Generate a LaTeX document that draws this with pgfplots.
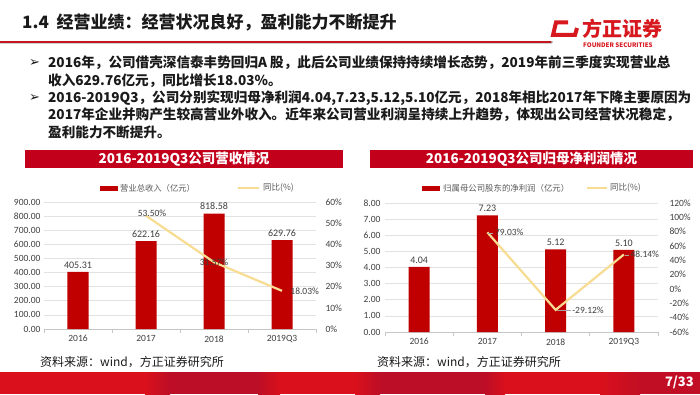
\documentclass[border=0pt]{standalone}
\usepackage{pgfplots}
\pgfplotsset{compat=1.18}
\usepackage{fontspec}
\setmainfont{Noto Sans CJK SC}
\newfontfamily\calf{Carlito}
\newfontfamily\dejavu{DejaVu Sans}
\definecolor{barred}{HTML}{C00000}
\definecolor{liney}{HTML}{F7DC92}
\definecolor{banner}{HTML}{C3001B}
\definecolor{tickc}{HTML}{404040}
\definecolor{legc}{HTML}{595959}
\definecolor{gridc}{HTML}{E2E2E2}
\definecolor{brightred}{HTML}{DA101C}
\definecolor{darkband}{HTML}{BC0E26}
\definecolor{logored}{HTML}{D7191F}
\definecolor{txt}{HTML}{1A1A1A}
\newcommand\bodyf{\fontsize{13.6}{16}\selectfont\bfseries}
\pgfplotsset{
  chartbase/.style={scale only axis, anchor=south west,
    xmin=-0.5, xmax=3.5,
    ticklabel style={text=tickc},
  },
}
\begin{document}
\begin{tikzpicture}[x=1pt,y=1pt]
\useasboundingbox (0,0) rectangle (700,394);
\fill[white] (0,0) rectangle (700,394);
% ---------- header ----------
\node[anchor=west,inner sep=0pt,text=txt,font=\fontsize{17}{20}\selectfont\bfseries] at (22,372) {1.4\ \ 经营业绩：经营状况良好，盈利能力不断提升};
\draw[gray!35,line width=1pt] (0,350.6) -- (552,350.6);
\draw[logored!90!black,line width=1.4pt] (0,352) -- (552,352);
\fill[gray!60] (552,352) circle (1.2pt);
\draw[logored,line width=4pt] (568,371.5) -- (556,371.5) -- (553,359) -- (575,359) -- (577,366);
\node[anchor=west,inner sep=0pt,text=logored,font=\fontsize{20}{22}\selectfont\bfseries] at (582,365) {方正证券};
\node[anchor=west,inner sep=0pt,text=logored,font=\fontsize{6.2}{7}\selectfont\bfseries] at (583,349) {FOUNDER SECURITIES};
% ---------- bullets ----------
\node[anchor=west,inner sep=0pt,text=txt,font=\dejavu\fontsize{13}{14}\selectfont\bfseries] at (29,331) {➢};
\node[anchor=west,inner sep=0pt,text=txt,font=\dejavu\fontsize{13}{14}\selectfont\bfseries] at (29,296) {➢};
\node[anchor=west,inner sep=0pt,text=txt,font=\bodyf] at (48,331) {2016年，公司借壳深信泰丰势回归A 股，此后公司业绩保持持续增长态势，2019年前三季度实现营业总};
\node[anchor=west,inner sep=0pt,text=txt,font=\bodyf] at (48,313) {收入629.76亿元，同比增长18.03\%。};
\node[anchor=west,inner sep=0pt,text=txt,font=\bodyf] at (48,296) {2016-2019Q3，公司分别实现归母净利润4.04,7.23,5.12,5.10亿元，2018年相比2017年下降主要原因为};
\node[anchor=west,inner sep=0pt,text=txt,font=\bodyf] at (48,279) {2017年企业并购产生较高营业外收入。近年来公司营业利润呈持续上升趋势，体现出公司经营状况稳定，};
\node[anchor=west,inner sep=0pt,text=txt,font=\bodyf] at (48,262) {盈利能力不断提升。};
% ---------- banners ----------
\fill[banner] (25,226) rectangle (343,244);
\node[text=white,font=\fontsize{13.5}{15}\selectfont\bfseries,inner sep=0pt] at (184,235) {2016-2019Q3公司营收情况};
\fill[banner] (370,226) rectangle (693,244);
\node[text=white,font=\fontsize{13.5}{15}\selectfont\bfseries,inner sep=0pt] at (531.5,235) {2016-2019Q3公司归母净利润情况};
% ---------- legends ----------
\fill[barred] (100,203.5) rectangle (118,208.5);
\node[anchor=west,inner sep=0pt,text=legc,font=\fontsize{8.3}{9}\selectfont] at (120,206) {营业总收入（亿元）};
\draw[liney,line width=2pt] (238,206) -- (259,206);
\node[anchor=west,inner sep=0pt,text=legc,font=\fontsize{8.5}{9}\selectfont] at (263,206) {同比(\%)};
\fill[barred] (422,203.5) rectangle (440,208.5);
\node[anchor=west,inner sep=0pt,text=legc,font=\fontsize{8.4}{9}\selectfont] at (443,206) {归属母公司股东的净利润（亿元）};
\draw[liney,line width=2pt] (587,206) -- (607,206);
\node[anchor=west,inner sep=0pt,text=legc,font=\fontsize{8.5}{9}\selectfont] at (610,206) {同比(\%)};
% ---------- left chart: bars ----------
\begin{axis}[chartbase, at={(44pt,65pt)}, width=272pt, height=127pt,
  ymin=0, ymax=900, ytick={0,100,...,900},
  xtick={0,1,2,3}, xticklabels={2016,2017,2018,2019Q3},
  minor xtick={-0.5,0.5,1.5,2.5,3.5},
  axis x line*=bottom, axis y line*=left,
  y axis line style={draw=none},
  x axis line style={draw=gray!45,line width=0.6pt,-},
  major tick length=0pt, minor tick length=4pt, tick align=outside,
  minor x tick style={draw=gray!45,line width=0.6pt},
  ymajorgrids, grid style={draw=gridc,line width=0.6pt},
  yticklabel={\pgfmathprintnumber[fixed,fixed zerofill,precision=2,assume math mode=true]{\tick}},
  yticklabel style={font=\calf\fontsize{9.5}{10}\selectfont},
  xticklabel style={font=\calf\fontsize{9.5}{10}\selectfont, yshift=-3pt},
]
\addplot[ybar, bar width=21pt, fill=barred, draw=none, point meta=y,
  nodes near coords={\pgfmathprintnumber[fixed,fixed zerofill,precision=2,assume math mode=true]{\pgfplotspointmeta}},
  every node near coord/.append style={font=\calf\fontsize{10}{11}\selectfont,text=tickc}]
  coordinates {(0,405.31) (1,622.16) (2,818.58) (3,629.76)};
\end{axis}
% ---------- left chart: line ----------
\begin{axis}[chartbase, at={(44pt,65pt)}, width=272pt, height=127pt,
  ymin=0, ymax=60, ytick={0,10,...,60},
  hide x axis, axis y line*=right, y axis line style={draw=none},
  major tick length=0pt,
  yticklabel={\pgfmathprintnumber[assume math mode=true]{\tick}\%},
  yticklabel style={font=\calf\fontsize{9.5}{10}\selectfont, xshift=6pt},
]
\addplot[liney, line width=2.2pt, point meta=y,
  visualization depends on={value \thisrow{anc}\as\myanc},
  visualization depends on={value \thisrow{dx}\as\mydx},
  visualization depends on={value \thisrow{dy}\as\mydy},
  nodes near coords={\pgfmathprintnumber[fixed,fixed zerofill,precision=2,assume math mode=true]{\pgfplotspointmeta}\%},
  every node near coord/.append style={anchor=\myanc, xshift=\mydx pt, yshift=\mydy pt, font=\calf\fontsize{9.5}{10}\selectfont, text=tickc}]
  table {
x y anc dx dy
1 53.50 center 6 2
2 31.57 center 0 0
3 18.03 west 4 0
};
\end{axis}
% ---------- right chart: bars ----------
\begin{axis}[chartbase, at={(385pt,62pt)}, width=273pt, height=129pt,
  ymin=0, ymax=8, ytick={0,1,...,8},
  xtick={0,1,2,3}, xticklabels={2016,2017,2018,2019Q3},
  minor xtick={-0.5,0.5,1.5,2.5,3.5},
  axis x line*=bottom, axis y line*=left,
  y axis line style={draw=none},
  x axis line style={draw=gray!45,line width=0.6pt,-},
  major tick length=0pt, minor tick length=4pt, tick align=outside,
  minor x tick style={draw=gray!45,line width=0.6pt},
  ymajorgrids, grid style={draw=gridc,line width=0.6pt},
  yticklabel={\pgfmathprintnumber[fixed,fixed zerofill,precision=2,assume math mode=true]{\tick}},
  yticklabel style={font=\calf\fontsize{9.5}{10}\selectfont, xshift=-1pt},
  xticklabel style={font=\calf\fontsize{9.5}{10}\selectfont, yshift=-3pt},
]
\addplot[ybar, bar width=21pt, fill=barred, draw=none, point meta=y,
  nodes near coords={\pgfmathprintnumber[fixed,fixed zerofill,precision=2,assume math mode=true]{\pgfplotspointmeta}},
  every node near coord/.append style={font=\calf\fontsize{10}{11}\selectfont,text=tickc}]
  coordinates {(0,4.04) (1,7.23) (2,5.12) (3,5.10)};
\end{axis}
% ---------- right chart: line ----------
\begin{axis}[chartbase, at={(385pt,62pt)}, width=273pt, height=129pt,
  ymin=-60, ymax=120, ytick={-60,-40,...,120},
  hide x axis, axis y line*=right, y axis line style={draw=none},
  major tick length=0pt,
  yticklabel={\pgfmathprintnumber[assume math mode=true]{\tick}\%},
  yticklabel style={font=\calf\fontsize{9.5}{10}\selectfont, xshift=8pt},
]
\addplot[liney, line width=2.2pt, point meta=y,
  visualization depends on={value \thisrow{lead}\as\mylead},
  nodes near coords={\textcolor{gray!70}{\rule[0.55ex]{\mylead pt}{0.5pt}}\,\pgfmathprintnumber[fixed,fixed zerofill,precision=2,assume math mode=true]{\pgfplotspointmeta}\%},
  every node near coord/.append style={anchor=west, inner xsep=0pt, font=\calf\fontsize{9.5}{10}\selectfont, text=tickc}]
  table {
x y lead
1 79.03 5
2 -29.12 14
3 48.14 4
};
\end{axis}
% ---------- sources ----------
\node[anchor=west,inner sep=0pt,text=txt,font=\fontsize{12}{14}\selectfont] at (40,32) {资料来源：wind，方正证券研究所};
\node[anchor=west,inner sep=0pt,text=txt,font=\fontsize{12}{14}\selectfont] at (377,32) {资料来源：wind，方正证券研究所};
% ---------- footer ----------
\fill[brightred] (0,0) rectangle (700,22);
\shade[left color=brightred,right color=darkband] (145,0) rectangle (170,22);
\fill[darkband] (170,0) rectangle (258,22);
\shade[left color=darkband,right color=brightred] (258,0) rectangle (280,22);
\shade[left color=brightred,right color=darkband] (355,0) rectangle (380,22);
\fill[darkband] (380,0) rectangle (485,22);
\shade[left color=darkband,right color=brightred] (485,0) rectangle (505,22);
\shade[left color=brightred,right color=darkband!80!brightred] (600,0) rectangle (640,22);
\fill[darkband!80!brightred] (640,0) rectangle (700,22);
\node[anchor=east,inner sep=0pt,text=white,font=\fontsize{13}{14}\selectfont\bfseries] at (694,12) {7/33};
\end{tikzpicture}
\end{document}
